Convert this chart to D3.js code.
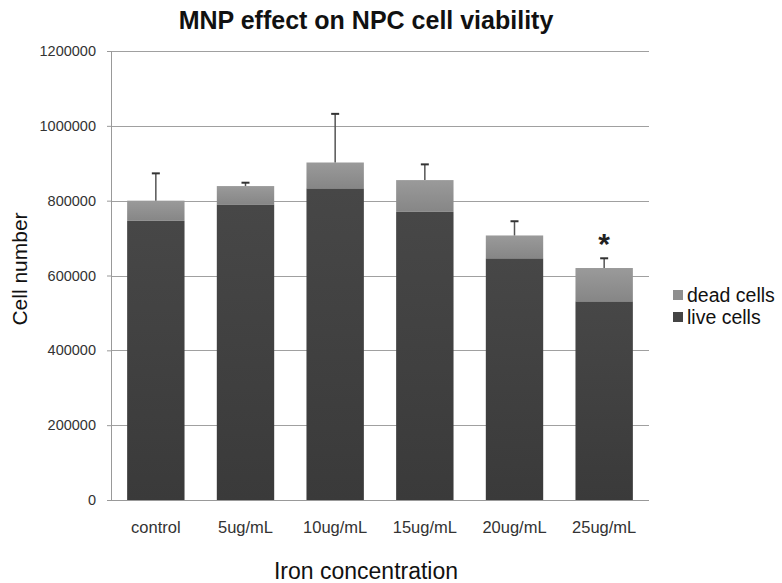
<!DOCTYPE html>
<html>
<head>
<meta charset="utf-8">
<script src="https://cdn.jsdelivr.net/npm/d3@7"></script>
<style>
  body { margin: 0; background: #fff; }
  text { font-family: "Liberation Sans", Arial, sans-serif; }
</style>
</head>
<body>
<div id="chart"></div>
<script>
////////// DATA //////////

var categories = ["control", "5ug/mL", "10ug/mL", "15ug/mL", "20ug/mL", "25ug/mL"];
var liveCells = [746000, 790000, 833000, 770000, 646000, 531000];
var deadCells = [54000, 49000, 69000, 85000, 61000, 89000];
var errorUp = [73000, 9000, 130000, 42000, 38000, 26000];
var significant = [false, false, false, false, false, true];
var yTicks = [0, 200000, 400000, 600000, 800000, 1000000, 1200000];

////////// SETUP //////////

var width = 782, height = 583;
var margin = { top: 51, right: 133, bottom: 83, left: 111 };
var innerW = width - margin.left - margin.right;
var innerH = height - margin.top - margin.bottom;

var svg = d3.select("#chart").append("svg")
    .attr("width", width)
    .attr("height", height);

var defs = svg.append("defs");
var gDead = defs.append("linearGradient").attr("id", "gDead")
    .attr("x1", 0).attr("y1", 0).attr("x2", 0).attr("y2", 1);
gDead.append("stop").attr("offset", "0%").attr("stop-color", "#9a9a9a");
gDead.append("stop").attr("offset", "100%").attr("stop-color", "#868686");
var gLive = defs.append("linearGradient").attr("id", "gLive")
    .attr("x1", 0).attr("y1", 0).attr("x2", 0).attr("y2", 1);
gLive.append("stop").attr("offset", "0%").attr("stop-color", "#474747");
gLive.append("stop").attr("offset", "100%").attr("stop-color", "#3a3a3a");

var x = d3.scaleBand()
    .domain(categories)
    .range([0, innerW])
    .paddingInner(0.36)
    .paddingOuter(0.18);

var y = d3.scaleLinear()
    .domain([0, 1200000])
    .range([innerH, 0]);

var g = svg.append("g")
    .attr("transform", "translate(" + margin.left + "," + margin.top + ")");

////////// GRID & AXES //////////

g.append("g")
    .selectAll("line")
    .data(yTicks.slice(1))
    .enter()
    .append("line")
    .attr("x1", 0)
    .attr("x2", innerW)
    .attr("y1", function(d) { return Math.round(y(d)) + 0.5; })
    .attr("y2", function(d) { return Math.round(y(d)) + 0.5; })
    .style("stroke", "#a0a0a0")
    .style("stroke-width", 1.2);

var yAxis = g.append("g")
    .call(d3.axisLeft(y).tickValues(yTicks).tickSize(4).tickPadding(11).tickFormat(d3.format("d")));
yAxis.select(".domain").style("stroke", "#999");
yAxis.selectAll(".tick line").style("stroke", "#999");
yAxis.selectAll("text")
    .style("font-size", "14.5px")
    .style("fill", "#333");

g.append("line")
    .attr("x1", 0).attr("x2", innerW)
    .attr("y1", innerH + 0.5).attr("y2", innerH + 0.5)
    .style("stroke", "#999")
    .style("stroke-width", 1.2);

g.append("g")
    .selectAll("text")
    .data(categories)
    .enter()
    .append("text")
    .attr("x", function(d) { return x(d) + x.bandwidth() / 2; })
    .attr("y", innerH + 33)
    .attr("text-anchor", "middle")
    .style("font-size", "16.5px")
    .style("fill", "#333")
    .text(function(d) { return d; });

////////// BARS //////////

var bars = g.append("g")
    .selectAll("g")
    .data(categories)
    .enter()
    .append("g");

bars.append("rect")
    .attr("x", function(d) { return x(d); })
    .attr("width", x.bandwidth())
    .attr("y", function(d, i) { return y(liveCells[i]); })
    .attr("height", function(d, i) { return innerH - y(liveCells[i]); })
    .attr("fill", "url(#gLive)");

bars.append("rect")
    .attr("x", function(d) { return x(d); })
    .attr("width", x.bandwidth())
    .attr("y", function(d, i) { return y(liveCells[i] + deadCells[i]); })
    .attr("height", function(d, i) { return y(liveCells[i]) - y(liveCells[i] + deadCells[i]); })
    .attr("fill", "url(#gDead)");

// error bars (upward only)
bars.append("line")
    .attr("x1", function(d) { return x(d) + x.bandwidth() / 2; })
    .attr("x2", function(d) { return x(d) + x.bandwidth() / 2; })
    .attr("y1", function(d, i) { return y(liveCells[i] + deadCells[i]); })
    .attr("y2", function(d, i) { return y(liveCells[i] + deadCells[i] + errorUp[i]); })
    .style("stroke", "#555")
    .style("stroke-width", 1.5);

bars.append("line")
    .attr("x1", function(d) { return x(d) + x.bandwidth() / 2 - 4; })
    .attr("x2", function(d) { return x(d) + x.bandwidth() / 2 + 4; })
    .attr("y1", function(d, i) { return y(liveCells[i] + deadCells[i] + errorUp[i]); })
    .attr("y2", function(d, i) { return y(liveCells[i] + deadCells[i] + errorUp[i]); })
    .style("stroke", "#333")
    .style("stroke-width", 2);

bars.filter(function(d, i) { return significant[i]; })
    .append("text")
    .attr("x", function(d) { return x(d) + x.bandwidth() / 2; })
    .attr("y", function(d) {
      var i = categories.indexOf(d);
      return y(liveCells[i] + deadCells[i] + errorUp[i]) - 4;
    })
    .attr("text-anchor", "middle")
    .style("font-size", "30px")
    .style("font-weight", "bold")
    .style("fill", "#222")
    .text("*");

////////// TITLES //////////

svg.append("text")
    .attr("x", 366)
    .attr("y", 29)
    .attr("text-anchor", "middle")
    .style("font-size", "25px")
    .style("font-weight", "bold")
    .style("fill", "#111")
    .text("MNP effect on NPC cell viability");

svg.append("text")
    .attr("x", 366)
    .attr("y", 579)
    .attr("text-anchor", "middle")
    .style("font-size", "23px")
    .style("fill", "#111")
    .text("Iron concentration");

svg.append("text")
    .attr("transform", "translate(27,269) rotate(-90)")
    .attr("text-anchor", "middle")
    .style("font-size", "21px")
    .style("fill", "#111")
    .text("Cell number");

////////// LEGEND //////////

var legendItems = [
  { label: "dead cells", fill: "#8f8f8f" },
  { label: "live cells", fill: "#444" }
];

var legend = svg.append("g")
    .attr("transform", "translate(673,295)");

var li = legend.selectAll("g")
    .data(legendItems)
    .enter()
    .append("g")
    .attr("transform", function(d, i) { return "translate(0," + (i * 22) + ")"; });

li.append("rect")
    .attr("x", 0)
    .attr("y", -5)
    .attr("width", 10)
    .attr("height", 10)
    .attr("fill", function(d) { return d.fill; });

li.append("text")
    .attr("x", 14)
    .attr("y", 6.5)
    .style("font-size", "19.5px")
    .style("fill", "#111")
    .text(function(d) { return d.label; });
</script>
</body>
</html>
